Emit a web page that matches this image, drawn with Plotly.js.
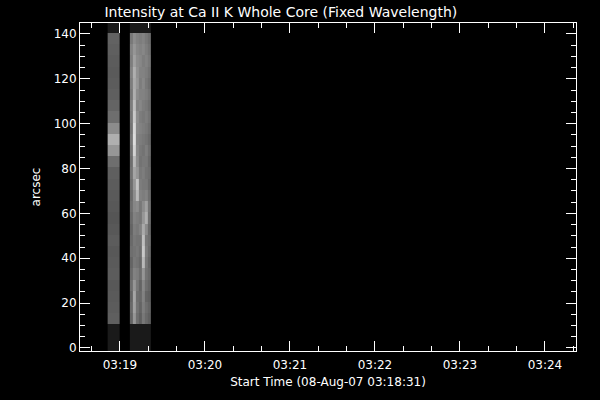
<!DOCTYPE html>
<html>
<head>
<meta charset="utf-8">
<script src="https://cdn.plot.ly/plotly-3.0.1.min.js"></script>
<style>html,body{margin:0;padding:0;background:#000;}#chart{width:600px;height:400px;}</style>
</head>
<body>
<div id="chart"></div>
<script>
// Row edges in arcsec (bottom pad row, 26 data rows, top pad row)
const yEdges = [-1.34, 10.5, 15.5, 20.5, 25.5, 30.5, 35.5, 40.5, 45.5, 50.5, 55.5, 60.5, 65.5, 70.5,
  75.5, 80.5, 85.5, 90.5, 95.5, 100.5, 105.5, 110.5, 115.5, 120.5, 125.5, 130.5, 135.5, 140.5, 144.9];

// Strip 1 time edges and intensity (grey level 0-255), rows bottom -> top
const strip1Times = ["2007-08-08 03:18:51.3", "2007-08-08 03:19:00.0"];
const strip1Values = [95, 92, 90, 88, 92, 90, 88, 92, 88, 85, 88, 90, 92, 95, 110, 150, 175, 140,
  110, 100, 95, 92, 90, 92, 95, 98];

// Strip 2 time edges and intensity, rows bottom -> top, 7 columns each
const strip2Times = ["2007-08-08 03:19:07.0", "2007-08-08 03:19:09.1", "2007-08-08 03:19:11.3",
  "2007-08-08 03:19:13.4", "2007-08-08 03:19:15.5", "2007-08-08 03:19:17.6",
  "2007-08-08 03:19:19.8", "2007-08-08 03:19:21.9"];
const strip2Values = [
  [100, 150, 110, 95, 120, 105, 95],
  [105, 160, 115, 100, 125, 110, 100],
  [100, 165, 110, 105, 130, 100, 95],
  [110, 150, 120, 100, 135, 110, 100],
  [105, 130, 125, 110, 150, 115, 105],
  [100, 120, 115, 105, 185, 120, 100],
  [110, 115, 120, 110, 200, 125, 105],
  [105, 120, 115, 115, 190, 120, 110],
  [100, 125, 120, 130, 170, 140, 105],
  [105, 130, 125, 120, 150, 175, 110],
  [110, 135, 140, 120, 140, 160, 115],
  [105, 140, 185, 130, 125, 130, 110],
  [110, 150, 195, 125, 120, 120, 105],
  [115, 165, 150, 120, 125, 115, 110],
  [110, 185, 140, 115, 120, 120, 105],
  [115, 210, 135, 120, 115, 125, 110],
  [120, 220, 130, 125, 120, 115, 105],
  [115, 215, 135, 130, 125, 120, 110],
  [120, 200, 140, 125, 120, 125, 115],
  [125, 190, 130, 135, 125, 120, 110],
  [120, 175, 140, 130, 130, 125, 115],
  [125, 170, 150, 125, 135, 120, 110],
  [130, 175, 145, 130, 130, 125, 115],
  [125, 160, 140, 135, 125, 130, 120],
  [130, 150, 135, 130, 135, 125, 115],
  [120, 140, 130, 125, 130, 120, 110]
];
const padValue = 26;

const xRange = ["2007-08-08 03:18:31.8", "2007-08-08 03:24:21.9"];
const yRange = [-1.34, 144.9];

const grey = [[0, "#000000"], [1, "#ffffff"]];

const z1 = [[padValue]].concat(strip1Values.map(v => [v])).concat([[padValue]]);
const nc = strip2Values[0].length;
const padRow = new Array(nc).fill(padValue);
const z2 = [padRow].concat(strip2Values).concat([padRow]);

const common = {type: "heatmap", y: yEdges, colorscale: grey, zmin: 0, zmax: 255,
  showscale: false, hoverinfo: "skip"};

const traces = [
  Object.assign({}, common, {x: strip1Times, z: z1}),
  Object.assign({}, common, {x: strip2Times, z: z2})
];

const font = {family: "DejaVu Sans", color: "#ffffff", size: 12};
const axisCommon = {
  showline: true, linecolor: "#ffffff", linewidth: 1, mirror: "allticks",
  ticks: "inside", ticklen: 10, tickwidth: 1, tickcolor: "#ffffff",
  showgrid: false, zeroline: false, tickfont: font
};

const layout = {
  width: 600, height: 400,
  paper_bgcolor: "#000000", plot_bgcolor: "#000000",
  margin: {l: 80, r: 24, t: 23, b: 49},
  font: font,
  showlegend: false,
  title: {text: "Intensity at Ca II K Whole Core (Fixed Wavelength)",
    font: {family: "DejaVu Sans", color: "#ffffff", size: 14},
    xref: "container", x: 0.468, xanchor: "center", yref: "container", y: 0.97, yanchor: "middle"},
  xaxis: Object.assign({}, axisCommon, {
    type: "date", range: xRange, tickformat: "%H:%M",
    tick0: "2007-08-08 03:19:00", dtick: 60000,
    ticklabelstandoff: 3,
    minor: {dtick: 20000, ticks: "inside", ticklen: 5, tickcolor: "#ffffff", showgrid: false},
    title: {text: "Start Time (08-Aug-07 03:18:31)", font: font, standoff: 6}
  }),
  yaxis: Object.assign({}, axisCommon, {
    range: yRange, tick0: 0, dtick: 20,
    minor: {dtick: 5, ticks: "inside", ticklen: 5, tickcolor: "#ffffff", showgrid: false},
    title: {text: "arcsec", font: font, standoff: 10}
  })
};

Plotly.newPlot("chart", traces, layout, {displayModeBar: false, staticPlot: true});
</script>
</body>
</html>
